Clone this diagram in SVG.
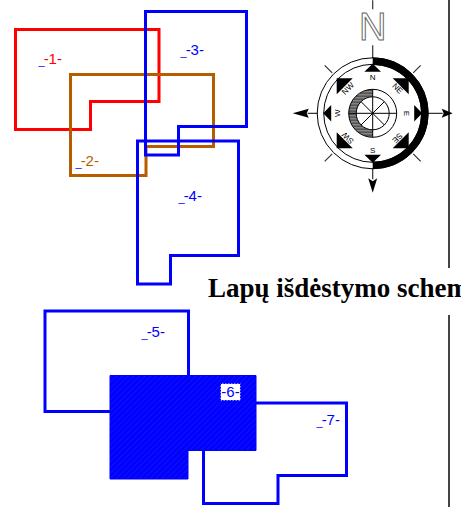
<svg xmlns="http://www.w3.org/2000/svg" width="461" height="507" viewBox="0 0 461 507">
<style>
.sheet{fill:none;stroke-width:3;stroke-linejoin:miter}
.blue{stroke:#0000ff}
.lb{font-family:"Liberation Sans",Arial,sans-serif;font-size:15px}
.us{fill:#0000ff;font-size:11px}
.cl{font-family:"Liberation Sans",Arial,sans-serif;font-size:8px;text-anchor:middle;fill:#000}
.thin{fill:none;stroke:#000;stroke-width:1}
.ax{fill:none;stroke:#333;stroke-width:1.2}
</style>
<defs>
<pattern id="hatch" width="4" height="4" patternUnits="userSpaceOnUse" patternTransform="rotate(45)">
<rect width="4" height="4" fill="#0000ff"/><rect width="1" height="4" fill="#1010ff"/>
</pattern>
<pattern id="stripes" width="4" height="3" patternUnits="userSpaceOnUse">
<rect width="4" height="3" fill="#555"/><rect width="4" height="1" y="2" fill="#999"/>
</pattern>
</defs>
<rect width="461" height="507" fill="#fff"/>
<g id="frame-line"><path d="M449 0V268M449 315V507" fill="none" stroke="#444" stroke-width="2"/></g>
<g id="sheet-1"><path class="sheet" stroke="#ff0000" d="M15.500 29.500H159V101.500H90.500V129.500H15.500Z"/><text class="lb" x="38.500" y="65" fill="#ff0000"><tspan class="us">_</tspan><tspan dy="-1" dx="-1">-1-</tspan></text></g>
<g id="sheet-2"><path class="sheet" stroke="#b85c00" d="M70.500 74.500H213.500V146.500H146V175.500H70.500Z"/><text class="lb" x="75.500" y="167" fill="#b85c00"><tspan class="us">_</tspan><tspan dy="-1" dx="-1">-2-</tspan></text></g>
<g id="sheet-3"><path class="sheet blue" d="M145.500 11.500H246.500V126.500H178.500V155H145.500Z"/><text class="lb" x="180.500" y="56" fill="#0000ff"><tspan class="us">_</tspan><tspan dy="-1" dx="-1">-3-</tspan></text></g>
<g id="sheet-4"><path class="sheet blue" d="M137.500 141H238.500V255.500H170.500V284H137.500Z"/><text class="lb" x="178.500" y="202" fill="#0000ff"><tspan class="us">_</tspan><tspan dy="-1" dx="-1">-4-</tspan></text></g>
<g id="sheet-5"><path class="sheet blue" d="M45 311H188.500V411.500H45Z"/><text class="lb" x="141.500" y="338" fill="#0000ff"><tspan class="us">_</tspan><tspan dy="-1" dx="-1">-5-</tspan></text></g>
<g id="sheet-7"><path class="sheet blue" d="M203.500 403H346.500V475.500H278V503.500H203.500Z"/><text class="lb" x="316.500" y="426" fill="#0000ff"><tspan class="us">_</tspan><tspan dy="-1" dx="-1">-7-</tspan></text></g>
<g id="sheet-6"><path fill="url(#hatch)" stroke="#0000ff" d="M110 375.500H256V450.500H188V479H110Z"/><rect x="220.500" y="383.500" width="20" height="17" fill="#fff" stroke="#0000ff" stroke-width="1" stroke-dasharray="1.500 1.500"/><text class="lb" x="230.500" y="397" text-anchor="middle" fill="#0000ff">-6-</text></g>
<g id="compass" transform="translate(372.700 113.300)">
<path class="ax" d="M0-113V-104M0-68V-55M0 55V66M-55 0H-65M55 0H70"/>
<path d="M-80 0L-64 -4.500L-66 0L-64 4.500ZM80 0L69 -4.500L71 0L69 4.500ZM0 79.500L-4.500 65L0 68L4.500 65Z" fill="#000"/>
<text x="0" y="-73.500" font-family="'Liberation Sans',Arial,sans-serif" font-size="38" text-anchor="middle" fill="#fff" stroke="#666" stroke-width="1">N</text>
<circle class="thin" r="55.500"/><circle class="thin" r="49"/>
<path d="M0-52A52 52 0 0 1 0 52" fill="none" stroke="#000" stroke-width="7.500"/>
<path class="ax" d="M40.500-40.500L48-48M-40.500-40.500L-48-48M40.500 40.500L48 48M-40.500 40.500L-48 48"/>
<path fill="#000" d="M0-49.500L8.300-41.500H-8.300ZM0 49.500L8.300 41.500H-8.300ZM49.500 0L41.500-8.300V8.300ZM-49.500 0L-41.500-8.300V8.300ZM36-35H20L36-19ZM-36-35H-20L-36-19ZM36 35H20L36 19ZM-36 35H-20L-36 19Z"/>
<text class="cl" x="0" y="-33">N</text><text class="cl" x="0" y="40">S</text>
<text class="cl" transform="translate(34.500 0) rotate(90) translate(0 3)">E</text>
<text class="cl" transform="translate(-36 0) rotate(-90) translate(0 3)">W</text>
<text class="cl" transform="translate(25 -25) rotate(45) translate(0 3)">NE</text>
<text class="cl" transform="translate(-25 -25) rotate(-45) translate(0 3)">NW</text>
<text class="cl" transform="translate(25 25) rotate(135) translate(0 3)">SE</text>
<text class="cl" transform="translate(-25 25) rotate(-135) translate(0 3)">SW</text>
<path d="M0-24A24 24 0 0 0 0 24V16.500A16.500 16.500 0 0 1 0-16.500Z" fill="url(#stripes)"/>
<circle class="thin" r="24"/><circle class="thin" r="16.500"/>
<path class="thin" d="M0-24V24M-24 0H24M-11.700-11.700L11.700 11.700M11.700-11.700L-11.700 11.700"/>
</g>
<g id="title"><text x="208" y="297" font-family="'Liberation Serif','Times New Roman',serif" font-weight="700" font-size="27" fill="#000">Lapų išdėstymo schema</text></g>
</svg>
